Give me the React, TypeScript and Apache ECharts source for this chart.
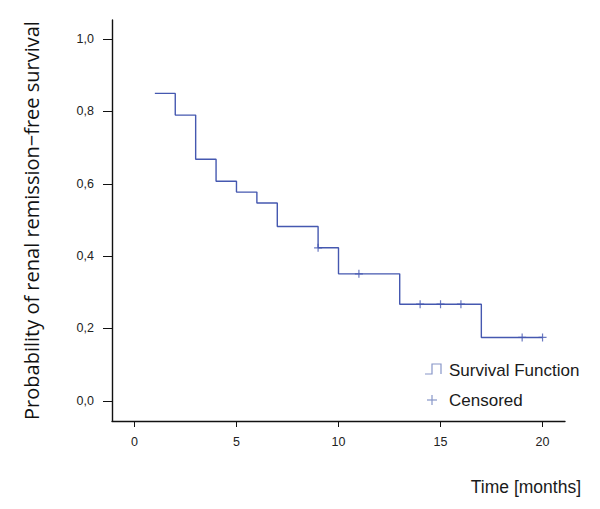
import React, { useEffect, useRef } from "react";
import * as echarts from "echarts";

const eventTimes = [1, 2, 3, 4, 5, 6, 7, 9, 10, 13, 17, 20];
const survival = [0.85, 0.79, 0.668, 0.607, 0.577, 0.547, 0.482, 0.423, 0.351, 0.267, 0.175, 0.175];
const censoredTimes = [9, 11, 14, 15, 16, 19, 20];
const censoredValues = [0.423, 0.351, 0.267, 0.267, 0.267, 0.175, 0.175];
const xTicks = [0, 5, 10, 15, 20];
const yTicks = [0, 0.2, 0.4, 0.6, 0.8, 1.0];

const LINE = "#4558b0";
const FONT = "Liberation Sans, Arial, sans-serif";

export default function App() {
  const ref = useRef<HTMLDivElement>(null);
  useEffect(() => {
    document.body.style.margin = "0";
    const chart = echarts.init(ref.current!, null, { renderer: "svg" });
    chart.setOption({
      animation: false,
      backgroundColor: "#ffffff",
      grid: { left: 112, right: 35, top: 20, bottom: 88 },
      xAxis: {
        type: "value",
        min: -1.1,
        max: 21.1,
        splitLine: { show: false },
        axisLine: { show: true, onZero: false, lineStyle: { color: "#111", width: 1.4 } },
        axisTick: { show: true, customValues: xTicks, length: 6, lineStyle: { color: "#111" } },
        axisLabel: { customValues: xTicks, margin: 14, fontSize: 12.5, color: "#222", fontFamily: FONT },
      },
      yAxis: {
        type: "value",
        min: -0.056,
        max: 1.053,
        splitLine: { show: false },
        axisLine: { show: true, onZero: false, lineStyle: { color: "#111", width: 1.4 } },
        axisTick: { show: true, customValues: yTicks, length: 9, lineStyle: { color: "#111" } },
        axisLabel: {
          customValues: yTicks,
          margin: 18,
          fontSize: 12.5,
          color: "#222",
          fontFamily: FONT,
          formatter: (v: number) => v.toFixed(1).replace(".", ","),
        },
        name: "Probability of renal remission\u2212free survival",
        nameLocation: "middle",
        nameRotate: 90,
        nameGap: 71,
        nameTextStyle: { fontSize: 20, color: "#111", fontFamily: "Open Sans, Noto Sans, sans-serif" },
      },
      series: [
        {
          name: "Survival Function",
          type: "line",
          step: "end",
          data: eventTimes.map((t, i) => [t, survival[i]]),
          showSymbol: false,
          lineStyle: { color: LINE, width: 1.4 },
          z: 2,
        },
        {
          name: "Censored",
          type: "scatter",
          data: censoredTimes.map((t, i) => [t, censoredValues[i]]),
          symbol: "path://M0,-4L0,4M-4,0L4,0",
          symbolSize: 8,
          itemStyle: { color: "transparent", borderColor: LINE, borderWidth: 1.2 },
          z: 3,
        },
      ],
      graphic: [
        {
          type: "polyline",
          shape: { points: [[425, 374], [432, 374], [432, 364], [441, 364], [441, 374]] },
          style: { stroke: "#8796c8", fill: null, lineWidth: 1.2 },
        },
        {
          type: "line",
          shape: { x1: 427, y1: 400, x2: 437, y2: 400 },
          style: { stroke: "#8796c8", lineWidth: 1.2 },
        },
        {
          type: "line",
          shape: { x1: 432, y1: 395, x2: 432, y2: 405 },
          style: { stroke: "#8796c8", lineWidth: 1.2 },
        },
        {
          type: "text",
          x: 449,
          y: 370,
          style: { text: "Survival Function", fontSize: 17, fontFamily: FONT, fill: "#1a1a1a", verticalAlign: "middle" },
        },
        {
          type: "text",
          x: 449,
          y: 400,
          style: { text: "Censored", fontSize: 17, fontFamily: FONT, fill: "#1a1a1a", verticalAlign: "middle" },
        },
        {
          type: "text",
          x: 581,
          y: 487,
          style: { text: "Time [months]", fontSize: 17.5, fontFamily: FONT, fill: "#1a1a1a", align: "right", verticalAlign: "middle" },
        },
      ],
    });
    return () => chart.dispose();
  }, []);
  return <div ref={ref} style={{ width: 600, height: 509 }} />;
}
